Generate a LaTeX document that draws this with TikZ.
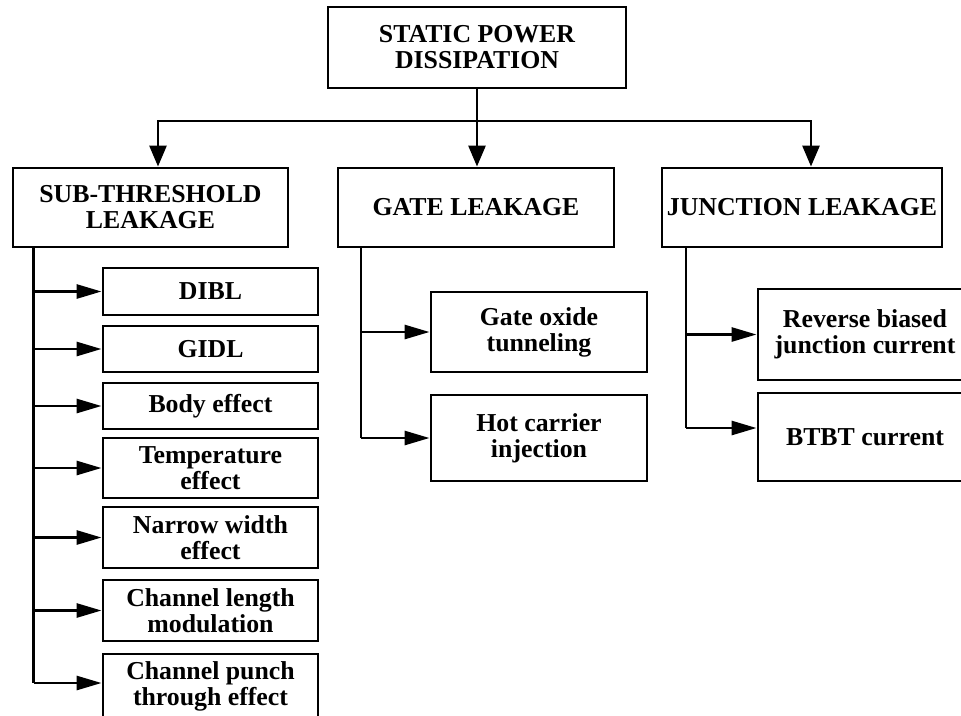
\documentclass[tikz,border=0pt]{standalone}
\usepackage{fontspec}
\setmainfont{Liberation Serif}
\usetikzlibrary{arrows.meta}
\begin{document}
\begin{tikzpicture}[x=1pt,y=-1pt,
  box/.style={draw,line width=2.9pt,rectangle,inner sep=0pt,align=center,
    font=\bfseries\fontsize{25.8}{26}\selectfont},
  conn/.style={line width=2.8pt},
  varr/.style={conn,-{Triangle[length=21pt,width=17pt]}},
  harr/.style={conn,-{Triangle[length=25pt,width=14pt]}}]
\useasboundingbox (0,0) rectangle (961,715);
\clip (0,0) rectangle (961,715);
% top level
\node[box,minimum width=298pt,minimum height=81pt] (top) at (477,47.5) {STATIC POWER\\DISSIPATION};
\node[box,minimum width=275pt,minimum height=79pt] (sub) at (150.5,207.5) {SUB-THRESHOLD\\LEAKAGE};
\node[box,minimum width=276pt,minimum height=79pt] (gate) at (476,207.5) {GATE LEAKAGE};
\node[box,minimum width=280pt,minimum height=79pt] (junc) at (802,207.5) {JUNCTION LEAKAGE};
% sub-threshold children
\node[box,minimum width=215pt,minimum height=47pt] (c1) at (210.5,291.5) {DIBL};
\node[box,minimum width=215pt,minimum height=46pt] (c2) at (210.5,349) {GIDL};
\node[box,minimum width=215pt,minimum height=46pt] (c3) at (210.5,406) {Body effect};
\node[box,minimum width=215pt,minimum height=60pt] (c4) at (210.5,468) {Temperature\\effect};
\node[box,minimum width=215pt,minimum height=61pt] (c5) at (210.5,537.5) {Narrow width\\effect};
\node[box,minimum width=215pt,minimum height=61pt] (c6) at (210.5,610.5) {Channel length\\modulation};
\node[box,minimum width=215pt,minimum height=64pt] (c7) at (210.5,686) {Channel punch\\through effect};
% gate children
\node[box,minimum width=216pt,minimum height=80pt] (g1) at (539,332) {Gate oxide\\tunneling};
\node[box,minimum width=216pt,minimum height=86pt] (g2) at (539,438) {Hot carrier\\injection};
% junction children
\node[box,minimum width=214pt,minimum height=91pt] (j1) at (865,334.5) {Reverse biased\\junction current};
\node[box,minimum width=214pt,minimum height=88pt] (j2) at (865,437) {BTBT current};
% top connectors
\coordinate (bl) at (158,121);
\coordinate (br) at (811,121);
\draw[varr] (top.south) -- (top.south |- gate.north);
\draw[varr] (top.south |- bl) -| (bl |- sub.north);
\draw[varr] (top.south |- br) -| (br |- junc.north);
% sub-threshold tree
\coordinate (s0) at ([xshift=22pt]sub.south west);
\coordinate (pa) at ([yshift=3pt]c7.west);
\draw[conn] (s0) -- (s0 |- pa);
\foreach \n in {c1,c2,c3,c4,c5,c6}
  \draw[harr] (s0 |- \n.west) -- (\n.west);
\draw[harr] (s0 |- pa) -- (pa);
% gate tree
\coordinate (g0) at (361,247);
\draw[conn] (g0) -- (g0 |- g2.west);
\draw[harr] (g0 |- g1.west) -- (g1.west);
\draw[harr] (g0 |- g2.west) -- (g2.west);
% junction tree
\coordinate (j0) at (686,247);
\coordinate (ja) at ([yshift=9pt]j2.west);
\draw[conn] (j0) -- (j0 |- ja);
\draw[harr] (j0 |- j1.west) -- (j1.west);
\draw[harr] (j0 |- ja) -- (ja);
\end{tikzpicture}
\end{document}
